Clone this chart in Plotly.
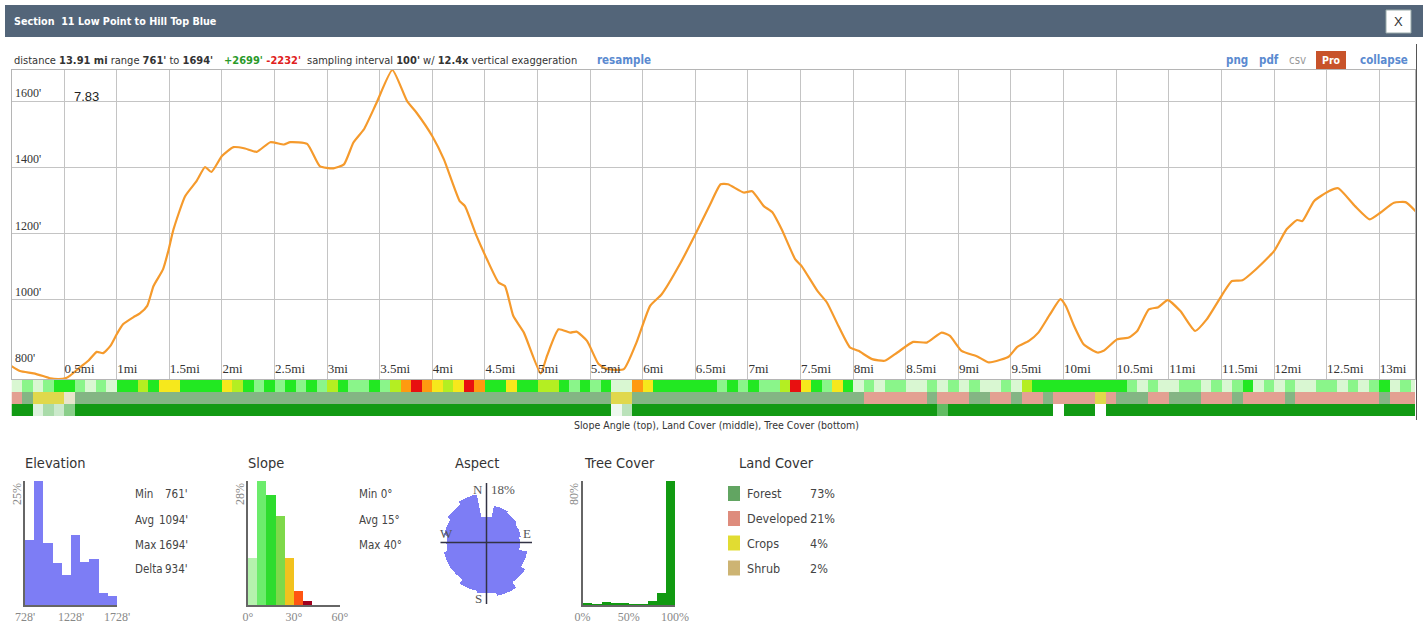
import plotly.graph_objects as go

W, H = 1423, 626


def px(x):
    return x / W


def py(y):
    return 1 - y / H


# ---------------- data ----------------
dist_mi = [0.00, 0.08, 0.21, 0.30, 0.37, 0.45, 0.51, 0.56, 0.65, 0.73, 0.81, 0.87, 0.94,
           1.00, 1.06, 1.16, 1.22, 1.29, 1.35, 1.44, 1.49, 1.54, 1.65, 1.76, 1.84, 1.90,
           2.00, 2.11, 2.22, 2.33, 2.46, 2.59, 2.65, 2.81, 2.93, 3.06, 3.16, 3.25, 3.35,
           3.47, 3.62, 3.76, 3.85, 4.00, 4.11, 4.26, 4.31, 4.42, 4.52, 4.63, 4.69, 4.77,
           4.87, 5.03, 5.09, 5.20, 5.31, 5.37, 5.47, 5.58, 5.66, 5.82, 5.94, 6.07, 6.18,
           6.36, 6.50, 6.64, 6.74, 6.81, 6.96, 7.04, 7.15, 7.23, 7.32, 7.45, 7.51, 7.66,
           7.75, 7.86, 7.97, 8.05, 8.18, 8.30, 8.42, 8.57, 8.70, 8.84, 8.92, 9.03, 9.18,
           9.29, 9.40, 9.48, 9.56, 9.67, 9.76, 9.87, 9.97, 10.02, 10.10, 10.19, 10.32,
           10.38, 10.51, 10.62, 10.70, 10.81, 10.90, 10.99, 11.11, 11.25, 11.36, 11.52,
           11.60, 11.70, 11.81, 12.00, 12.12, 12.22, 12.27, 12.38, 12.52, 12.61, 12.77,
           12.91, 13.01, 13.14, 13.25, 13.36]
elev_ft = [800, 785, 778, 770, 763, 761, 763, 772, 796, 816, 843, 839, 861,
           896, 926, 948, 959, 982, 1042, 1092, 1147, 1213, 1313, 1359, 1401, 1386,
           1434, 1461, 1457, 1447, 1476, 1469, 1476, 1471, 1404, 1397, 1409, 1475, 1515,
           1595, 1694, 1600, 1565, 1494, 1424, 1298, 1283, 1193, 1122, 1052, 1042, 951,
           901, 778, 831, 911, 901, 904, 876, 806, 791, 791, 871, 982, 1017,
           1112, 1198, 1288, 1349, 1349, 1324, 1328, 1283, 1265, 1213, 1122, 1102, 1027,
           992, 921, 856, 846, 821, 816, 841, 873, 871, 901, 891, 846, 829,
           811, 819, 829, 858, 876, 901, 956, 1002, 982, 921, 866, 841,
           846, 881, 886, 906, 971, 978, 999, 966, 906, 941, 1022,
           1057, 1059, 1087, 1147, 1213, 1241, 1238, 1298, 1328, 1337, 1283,
           1243, 1263, 1293, 1295, 1263]

dist_tick_vals = [0.5, 1, 1.5, 2, 2.5, 3, 3.5, 4, 4.5, 5, 5.5, 6, 6.5, 7, 7.5, 8, 8.5,
                  9, 9.5, 10, 10.5, 11, 11.5, 12, 12.5, 13]
dist_tick_labels = ["0.5mi", "1mi", "1.5mi", "2mi", "2.5mi", "3mi", "3.5mi", "4mi", "4.5mi",
                    "5mi", "5.5mi", "6mi", "6.5mi", "7mi", "7.5mi", "8mi", "8.5mi", "9mi",
                    "9.5mi", "10mi", "10.5mi", "11mi", "11.5mi", "12mi", "12.5mi", "13mi"]
elev_tick_vals = [800, 1000, 1200, 1400, 1600]
elev_tick_labels = ["800'", "1000'", "1200'", "1400'", "1600'"]

# strips, one character per 0.1 mi
strip_bin_mi = 0.1
slope_classes = ("0101221010" "2232442222" "4321212121" "3211213565" "4346522422"
                 "3321212005" "4222222121" "2113642142" "0101100101" "0100103222"
                 "2222221010" "0110101201" "0100110101" "2010")
land_cover_codes = ("DFCCCSFFFF" "FFFFFFFFFF" "FFFFFFFFFF" "FFFFFFFFFF" "FFFFFFFFFF"
                    "FFFFFFFCCF" "FFFFFFFFFF" "FFFFFFFFFF" "FDDDDDDFDD" "DFFDDFDDFD"
                    "DDDCDFFFDD" "FFFDDDFDDD" "DFDDDDDDDD" "FDDD")
tree_cover_tens = ("9925369999" "9999999999" "9999999999" "9999999999" "9999999999"
                   "9999999149" "9999999999" "9999999999" "9999999979" "9999999990"
                   "9990999999" "9999999999" "9999999999" "9999")

elev_hist_centers = [778, 878, 978, 1078, 1178, 1278, 1378, 1478, 1578, 1678]
elev_hist_pct = [13.2, 25.0, 12.6, 8.5, 6.0, 14.1, 8.6, 9.2, 2.5, 1.8]
elev_stat_names = ["Min", "Avg", "Max", "Delta"]
elev_stat_values = ["761'", "1094'", "1694'", "934'"]

slope_hist_centers = [3, 9, 15, 21, 27, 33, 39]
slope_hist_pct = [10.7, 28.0, 24.9, 20.0, 10.7, 3.2, 0.8]
slope_stat_text = ["Min 0°", "Avg 15°", "Max 40°"]

aspect_dirs = [0, 22.5, 45, 67.5, 90, 112.5, 135, 157.5, 180, 202.5, 225, 247.5, 270,
               292.5, 315, 337.5]
aspect_pct = [8.0, 11.5, 11.0, 10.5, 10.0, 12.5, 14.0, 16.0, 15.0, 14.5, 13.0, 13.0,
              12.0, 13.0, 14.0, 15.0]

tree_hist_centers = [5, 15, 25, 35, 45, 55, 65, 75, 85, 95]
tree_hist_pct = [1.5, 0.5, 2.0, 1.3, 1.3, 0.6, 0.6, 2.5, 8.0, 80.0]

lc_names = ["Forest", "Developed", "Crops", "Shrub"]
lc_pct = ["73%", "21%", "4%", "2%"]

# ---------------- styles ----------------
NARROW = "DejaVu Sans Condensed, Liberation Sans Narrow, Arial Narrow, sans-serif"
SANS = "Liberation Sans, Arial, sans-serif"
SERIF = "Liberation Serif, Times New Roman, serif"
ORANGE = "#f59a2c"
BLUE = "#7d7df5"
LINK = "#5a8ad0"

slope_strip_colors = ["#d9f7d2", "#8af58a", "#22e822", "#b4ee22", "#f6e81c", "#ff9a10", "#e81010"]
slope_hist_colors = ["#b5f2ae", "#6cec6c", "#2edc2e", "#7ed94a", "#f2c21e", "#ff5512", "#a0001e"]
lc_code_index = {"F": 0, "D": 1, "C": 2, "S": 3}
lc_strip_colors = ["#84b584", "#e3a092", "#e0d84c", "#e9e5cc"]
lc_legend_colors = ["#62a562", "#de8c7d", "#e1dc32", "#cdb473"]
tree_colorscale = [[0, "#ffffff"], [0.6, "#a2d8a2"], [1, "#129a14"]]


def discrete(colors):
    n = len(colors)
    cs = []
    for i, c in enumerate(colors):
        cs += [[i / n, c], [(i + 1) / n, c]]
    return cs


fig = go.Figure()

# profile
fig.add_trace(go.Scatter(x=dist_mi, y=elev_ft, mode="lines",
                         line=dict(color=ORANGE, width=2.2, shape="spline", smoothing=0.5),
                         hoverinfo="skip", xaxis="x", yaxis="y"))

n_bins = len(slope_classes)
strip_x = [strip_bin_mi * (i + 0.5) for i in range(n_bins)]
fig.add_trace(go.Heatmap(x=strip_x, y=[0], z=[[int(c) for c in slope_classes]],
                         colorscale=discrete(slope_strip_colors), zmin=-0.5, zmax=6.5,
                         showscale=False, hoverinfo="skip", xaxis="x", yaxis="y2"))
fig.add_trace(go.Heatmap(x=strip_x, y=[0], z=[[lc_code_index[c] for c in land_cover_codes]],
                         colorscale=discrete(lc_strip_colors), zmin=-0.5, zmax=3.5,
                         showscale=False, hoverinfo="skip", xaxis="x", yaxis="y3"))
fig.add_trace(go.Heatmap(x=strip_x, y=[0], z=[[int(c) for c in tree_cover_tens]],
                         colorscale=tree_colorscale, zmin=0, zmax=9,
                         showscale=False, hoverinfo="skip", xaxis="x", yaxis="y4"))

# histograms
fig.add_trace(go.Bar(x=elev_hist_centers, y=elev_hist_pct, width=100,
                     marker=dict(color=BLUE, line_width=0), hoverinfo="skip",
                     xaxis="x5", yaxis="y5"))
fig.add_trace(go.Bar(x=slope_hist_centers, y=slope_hist_pct, width=6,
                     marker=dict(color=slope_hist_colors, line_width=0), hoverinfo="skip",
                     xaxis="x6", yaxis="y6"))
fig.add_trace(go.Bar(x=tree_hist_centers, y=tree_hist_pct, width=10,
                     marker=dict(color="#119a11", line_width=0), hoverinfo="skip",
                     xaxis="x7", yaxis="y7"))
fig.add_trace(go.Barpolar(r=aspect_pct, theta=aspect_dirs, width=[22.5] * len(aspect_dirs),
                          marker=dict(color=BLUE, line_width=0), hoverinfo="skip",
                          subplot="polar"))

GRID = "#c4c4c4"


def hist_axes(x0, x1, xrange, tickvals, ticktext, yrange):
    xa = dict(domain=[px(x0), px(x1)], range=xrange, tickvals=tickvals, ticktext=ticktext,
              showgrid=False, zeroline=False, showline=True, linecolor="#666", linewidth=1.5,
              ticks="", tickfont=dict(family=SERIF, size=12, color="#888"), fixedrange=True)
    ya = dict(domain=[py(605), py(481)], range=yrange, showgrid=False, zeroline=False,
              showline=True, linecolor="#666", linewidth=1.5, showticklabels=False,
              ticks="", fixedrange=True)
    return xa, ya


x5, y5 = hist_axes(25, 117, [728, 1728], [728, 1228, 1728], ["728'", "1228'", "1728'"], [0, 25])
x6, y6 = hist_axes(248, 340, [0, 60], [0, 30, 60], ["0°", "30°", "60°"], [0, 28])
x7, y7 = hist_axes(582.5, 675, [0, 100], [0, 50, 100], ["0%", "50%", "100%"], [0, 80])
x5["anchor"], y5["anchor"] = "y5", "x5"
x6["anchor"], y6["anchor"] = "y6", "x6"
x7["anchor"], y7["anchor"] = "y7", "x7"

layout = dict(
    width=W, height=H, margin=dict(l=0, r=0, t=0, b=0, autoexpand=False),
    paper_bgcolor="white", plot_bgcolor="white", showlegend=False, bargap=0,
    xaxis=dict(domain=[px(11.5), px(1415)], range=[0, 13.34], tickvals=dist_tick_vals,
               ticktext=dist_tick_labels, ticklabelposition="inside right", ticks="",
               showgrid=True, gridcolor=GRID, gridwidth=1, zeroline=False, showline=True,
               linecolor="#b5b5b5", mirror=True, anchor="y",
               tickfont=dict(family=SERIF, size=13, color="#333"), fixedrange=True),
    yaxis=dict(domain=[py(379), py(70)], range=[761, 1694], tickvals=elev_tick_vals,
               showticklabels=False, ticks="",
               showgrid=True, gridcolor=GRID, gridwidth=1, zeroline=False, showline=True,
               linecolor="#b5b5b5", mirror=True, anchor="x", fixedrange=True),
    yaxis2=dict(domain=[py(392), py(380)], range=[-0.5, 0.5], visible=False, anchor="x"),
    yaxis3=dict(domain=[py(404), py(392)], range=[-0.5, 0.5], visible=False, anchor="x"),
    yaxis4=dict(domain=[py(416), py(404)], range=[-0.5, 0.5], visible=False, anchor="x"),
    xaxis5=x5, yaxis5=y5, xaxis6=x6, yaxis6=y6, xaxis7=x7, yaxis7=y7,
    polar=dict(domain=dict(x=[px(426.5), px(546.5)], y=[py(603.5), py(483.5)]),
               bgcolor="rgba(0,0,0,0)", hole=0,
               radialaxis=dict(range=[0, 18], visible=False),
               angularaxis=dict(direction="clockwise", rotation=90, visible=False)),
)
fig.update_layout(**layout)

shapes = []
ann = []


def text(x, y, s, size=13, color="#333", family=NARROW, xanchor="left", yanchor="middle",
         angle=0):
    ann.append(dict(x=px(x), y=py(y), xref="paper", yref="paper", text=s, showarrow=False,
                    xanchor=xanchor, yanchor=yanchor, textangle=angle,
                    font=dict(family=family, size=size, color=color)))


# elevation tick labels, inside the plot just above each gridline
for v, lab in zip(elev_tick_vals, elev_tick_labels):
    ann.append(dict(x=px(13), y=v, xref="paper", yref="y", text=lab, showarrow=False,
                    xanchor="left", yanchor="bottom", yshift=-1,
                    font=dict(family=SERIF, size=12, color="#333")))

# header bar
shapes.append(dict(type="rect", xref="paper", yref="paper", x0=px(5), x1=px(1423),
                   y0=py(37), y1=py(5), fillcolor="#536579", line_width=0, layer="below"))
shapes.append(dict(type="rect", xref="paper", yref="paper", x0=px(1386), x1=px(1411),
                   y0=py(33), y1=py(10), fillcolor="white", line=dict(color="#9aa", width=1)))
text(12, 21, "<b>Section  11 Low Point to Hill Top Blue</b>", size=10.7, color="white")
text(1398.5, 21.5, "X", size=13, color="#333", family=SANS, xanchor="center")

# info line
text(12, 60, "distance <b>13.91 mi</b> range <b>761'</b> to <b>1694'</b>", size=11)
text(222, 60, "<b><span style='color:#2a9a2a'>+2699'</span> <span style='color:#e02020'>-2232'</span></b>",
     size=11)
text(305, 60, "sampling interval <b>100'</b> w/ <b>12.4x</b> vertical exaggeration", size=11)
text(595, 60, "<b>resample</b>", size=11.5, color=LINK)
text(1224, 60, "<b>png</b>", size=11.5, color=LINK)
text(1257, 60, "<b>pdf</b>", size=11.5, color=LINK)
text(1287, 60, "csv", size=11.5, color="#999")
shapes.append(dict(type="rect", xref="paper", yref="paper", x0=px(1316), x1=px(1346),
                   y0=py(69), y1=py(51), fillcolor="#c8532a", line_width=0))
text(1331, 60, "<b>Pro</b>", size=10.5, color="white", xanchor="center")
text(1358, 60, "<b>collapse</b>", size=11.5, color=LINK)

# right edge line
shapes.append(dict(type="line", xref="paper", yref="paper", x0=px(1416.5), x1=px(1416.5),
                   y0=py(420), y1=py(44), line=dict(color="#555", width=1)))

# readout
text(72, 97, "7.83", size=13, color="#222", family=SANS)

# strip caption
text(716, 425, "Slope Angle (top), Land Cover (middle), Tree Cover (bottom)", size=10.5,
     color="#333", xanchor="center")

# panel titles
TS = 14.5
text(55, 463, "Elevation", size=TS, color="#333", xanchor="center")
text(266, 463, "Slope", size=TS, color="#333", xanchor="center")
text(476.5, 463, "Aspect", size=TS, color="#333", xanchor="center")
text(619, 463, "Tree Cover", size=TS, color="#333", xanchor="center")
text(776.5, 463, "Land Cover", size=TS, color="#333", xanchor="center")

# rotated max labels
text(17, 481, "25%", size=12, color="#888", family=SERIF, xanchor="center", yanchor="top", angle=-90)
text(240, 481, "28%", size=12, color="#888", family=SERIF, xanchor="center", yanchor="top", angle=-90)
text(574, 481, "80%", size=12, color="#888", family=SERIF, xanchor="center", yanchor="top", angle=-90)

# stats
stat_rows = [494, 519.5, 544.5, 569]
for name, val, yy in zip(elev_stat_names, elev_stat_values, stat_rows):
    text(133, yy, name, size=11.5, color="#444")
    text(190, yy, val, size=11.5, color="#444", xanchor="right")
for s, yy in zip(slope_stat_text, stat_rows):
    text(357, yy, s, size=11.5, color="#444")

# aspect crosshair and labels
shapes.append(dict(type="line", xref="paper", yref="paper", x0=px(440.5), x1=px(532),
                   y0=py(542.5), y1=py(542.5), line=dict(color="#334", width=1.5)))
shapes.append(dict(type="line", xref="paper", yref="paper", x0=px(486.5), x1=px(486.5),
                   y0=py(604), y1=py(483), line=dict(color="#334", width=1.5)))
text(478, 490, "N", size=13, color="#555", family=SERIF, xanchor="center")
text(489, 490, "18%", size=13, color="#555", family=SERIF)
text(446.5, 533, "W", size=13, color="#555", family=SERIF, xanchor="center")
text(526.5, 533, "E", size=13, color="#555", family=SERIF, xanchor="center")
text(479, 598, "S", size=13, color="#555", family=SERIF, xanchor="center")

# land cover legend
lc_rows = [493.5, 518.5, 543, 568]
for name, pct, col, yy in zip(lc_names, lc_pct, lc_legend_colors, lc_rows):
    shapes.append(dict(type="rect", xref="paper", yref="paper", x0=px(728), x1=px(740),
                       y0=py(yy + 7.5), y1=py(yy - 7.5), fillcolor=col, line_width=0))
    text(745, yy, name, size=12.5, color="#444")
    text(808, yy, pct, size=12.5, color="#444")

fig.update_layout(shapes=shapes, annotations=ann)
fig.write_html("out.html", config={"displayModeBar": False},
               post_script="document.body.style.margin='0px';")
